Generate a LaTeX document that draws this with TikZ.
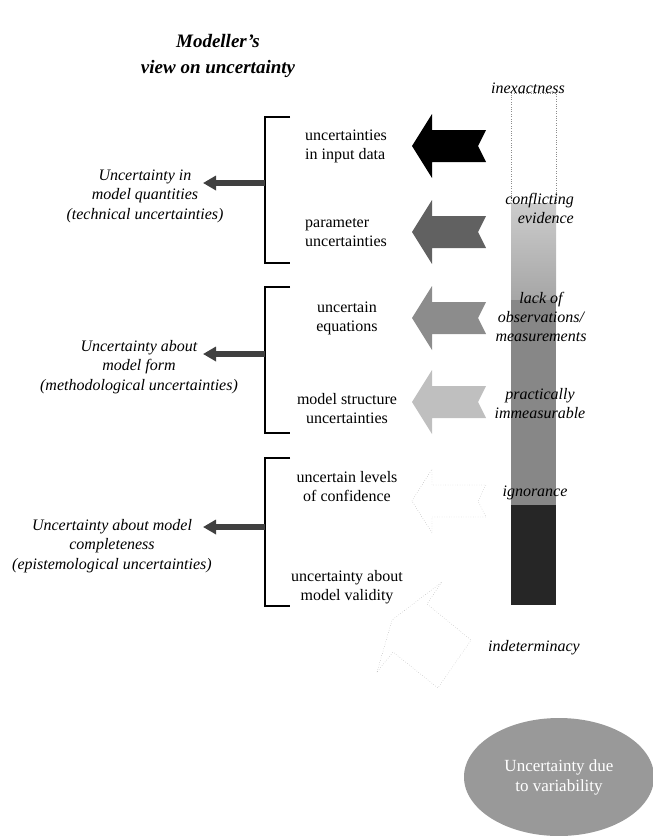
\documentclass[tikz,border=0pt]{standalone}
\usepackage{fontspec}
\setmainfont{Liberation Serif}
\usetikzlibrary{positioning,arrows.meta,shapes.geometric}

\begin{document}
\begin{tikzpicture}[
  x=1pt, y=-1pt,
  txt/.style={font=\fontsize{16}{19}\selectfont, align=center, inner sep=0pt},
  cls/.style={txt, font=\fontsize{16}{19.5}\selectfont\itshape},
  lvl/.style={txt, font=\fontsize{16}{19}\selectfont\itshape},
  brk/.style={line width=1.3pt},
  arr/.style={-{Triangle[length=13pt,width=14pt]}, line width=6pt, black!75},
  bigarrow/.pic={\path[pic actions] (0,0) -- (20,-32) -- (20,-16) -- (74,-16)
      -- (66,0) -- (74,16) -- (20,16) -- (20,32) -- cycle;}]
\useasboundingbox (0,0) rectangle (653,836);

\node[font=\fontsize{19}{26}\selectfont\bfseries\itshape, align=center] (title) at (218,56) {Modeller's\\view on uncertainty};

% the scale bar
\shade[top color=black!20, bottom color=black!35] (511,203) rectangle (556,300);
\fill[black!47] (511,300) rectangle (556,505);
\fill[black!85] (511,505) rectangle (556,605);
\draw[dotted, black!45] (511,203) -- (511,93) -- (556,93) -- (556,203);

\node[lvl] (inex) at (528,88) {inexactness};
\node[lvl, align=right, anchor=east] (confl) at (574,208) {conflicting\\evidence};
\node[lvl] (lack) at (541,317) {lack of\\observations/\\measurements};
\node[lvl] (imm) at (540,404) {practically\\immeasurable};
\node[lvl] (ign) at (535,493) {ignorance};
\node[lvl] (indet) at (534,648) {indeterminacy};

% big arrows
\pic[fill=black] at (412,146) {bigarrow};
\pic[fill=black!62] at (412,232) {bigarrow};
\pic[fill=black!45] at (412,318) {bigarrow};
\pic[fill=black!25] at (412,402) {bigarrow};
\pic[draw=black!40, dotted, fill=white] at (412,501) {bigarrow};
\draw[black!40, dotted] (377,672) -- (392,620) -- (442,582) -- (427,604)
  -- (471,640) -- (438,688) -- (393,652) -- cycle;

% sources
\node[txt, align=left, anchor=west] (inp) at (305,146) {uncertainties\\in input data};
\node[txt, align=left, anchor=west] (par) at (305,233) {parameter\\uncertainties};
\node[txt] (equ) at (347,318) {uncertain\\equations};
\node[txt] (struc) at (347,409) {model structure\\uncertainties};
\node[txt] (conf) at (347,487) {uncertain levels\\of confidence};
\node[txt] (valid) at (347,587) {uncertainty about\\model validity};

% brackets
\draw[brk] (290,117) -| (265,263) -- (290,263);
\draw[brk] (290,287) -| (265,433) -- (290,433);
\draw[brk] (290,458) -| (265,606) -- (290,606);
\coordinate (b1) at (265,183); \coordinate (t1) at (203,183);
\coordinate (b2) at (265,354); \coordinate (t2) at (203,354);
\coordinate (b3) at (265,527); \coordinate (t3) at (203,527);
\draw[arr] (b1) -- (t1);
\draw[arr] (b2) -- (t2);
\draw[arr] (b3) -- (t3);

\node[cls] (quant) at (145,196) {Uncertainty in\\model quantities\\(technical uncertainties)};
\node[cls] (form) at (139,367) {Uncertainty about\\model form\\(methodological uncertainties)};
\node[cls] (compl) at (112,546) {Uncertainty about model\\completeness\\(epistemological uncertainties)};

\node[ellipse, fill=black!40, text=white, minimum width=190pt, minimum height=118pt,
  font=\fontsize{17}{20}\selectfont, align=center] (var) at (559,777) {Uncertainty due\\to variability};
\end{tikzpicture}
\end{document}
